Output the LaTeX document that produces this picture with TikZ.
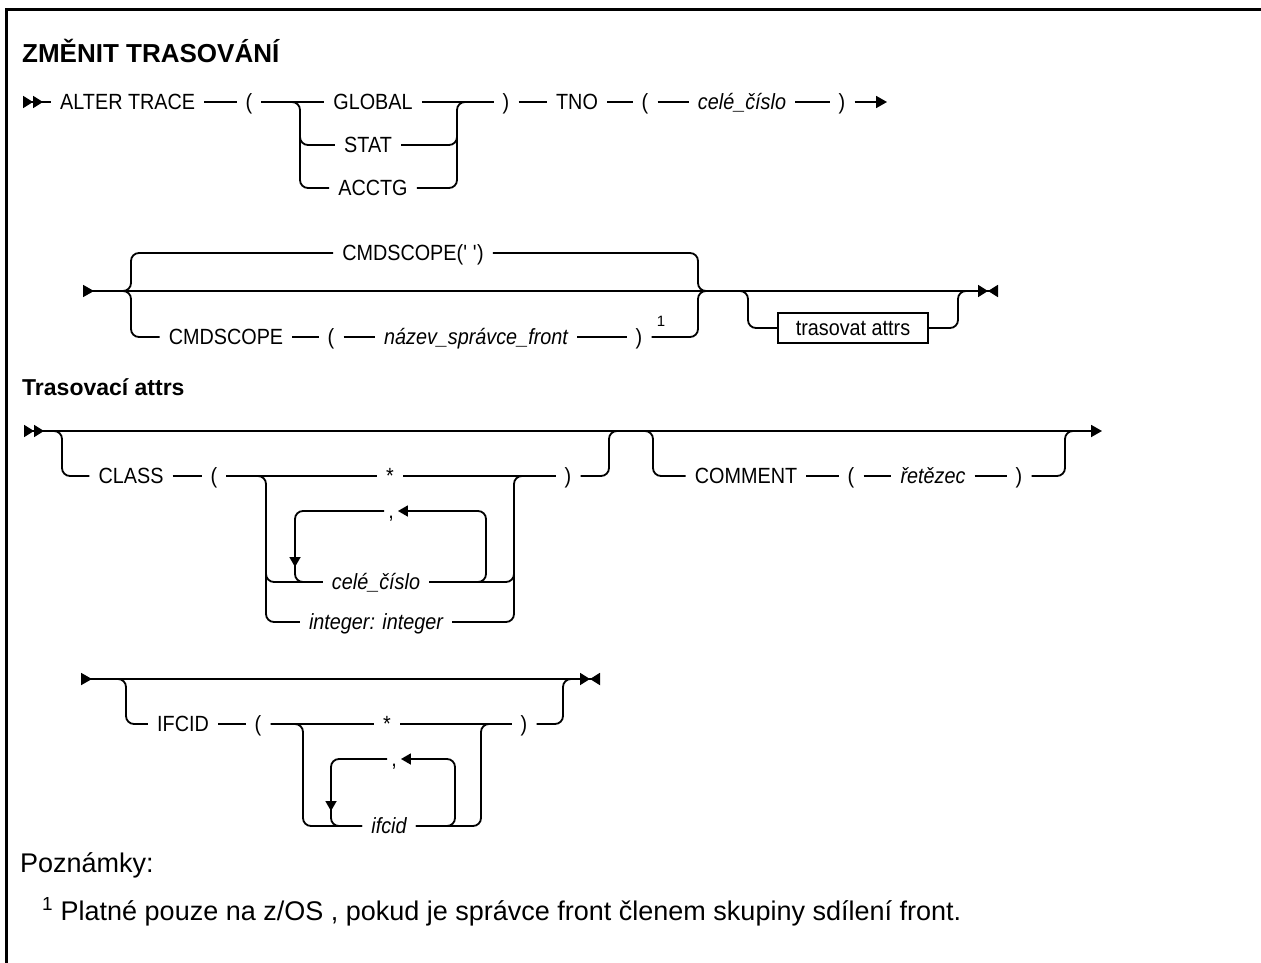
\documentclass[tikz,border=0pt]{standalone}
\usepackage{fontspec}
\setmainfont{Liberation Sans}
\newfontfamily\rrfamily[FakeStretch=0.9]{Liberation Sans}
\usetikzlibrary{arrows.meta, positioning, calc}

\newcommand{\rrfont}{\rrfamily\fontsize{22}{26}\selectfont}
\newcommand{\titlefont}{\fontsize{26}{30}\selectfont\bfseries}
\newcommand{\subfont}{\fontsize{23}{28}\selectfont\bfseries}
\newcommand{\notefont}{\fontsize{27}{32}\selectfont}
\newcommand{\supfont}{\fontsize{15}{18}\selectfont}

\begin{document}
\begin{tikzpicture}[x=1pt, y=-1pt,
    tok/.style={inner xsep=9pt, inner ysep=2pt, text height=17pt, text depth=2pt, font=\rrfont},
    var/.style={tok, font=\rrfont\itshape},
    refbox/.style={tok, draw, line width=1.4pt, minimum width=150pt, minimum height=30pt},
    rail/.style={line width=1.8pt, rounded corners=8pt},
    dblstart/.style={{Triangle[reversed,length=10pt,width=12pt,sep=0pt]Triangle[reversed,length=10pt,width=12pt]}-},
    opening/.style={{Triangle[reversed,length=10pt,width=12pt,sep=0pt]Triangle[reversed,length=10pt,width=12pt]}-{Triangle[length=11pt,width=12pt]}},
    continued/.style={{Triangle[reversed,length=11pt,width=12pt]}-{Triangle[length=10pt,width=12pt,sep=0pt]Triangle[reversed,length=10pt,width=12pt]}},
    onward/.style={-{Triangle[length=11pt,width=12pt]}},
    looparrow/.style={-{Triangle[length=10pt,width=11pt]}}
]
\useasboundingbox (0,0) rectangle (1261,963);

% frame
\draw[line width=3pt] (6.5,963) -- (6.5,9.5) -- (1261,9.5);

\node[anchor=base west, inner sep=0pt, font=\titlefont] (title) at (22,63) {ZMĚNIT TRASOVÁNÍ};

% row 1
\coordinate (s1) at (23,102);
\coordinate (e1) at (887,102);
\node[tok, anchor=west] (alter) at (51,102) {ALTER TRACE};
\node[tok] (lp1) at (249,102) {(};
\node[tok] (global) at (373,102) {GLOBAL};
\node[tok] (stat) at (368,145) {STAT};
\node[tok] (acctg) at (373,188) {ACCTG};
\node[tok] (rp1) at (506,102) {)};
\node[tok] (tno) at (577,102) {TNO};
\node[tok] (lp2) at (645,102) {(};
\node[var] (tnoval) at (742,102) {celé\_číslo};
\node[tok] (rp2) at (842,102) {)};

\draw[rail, dblstart] (s1) -- (alter.west);
\draw[rail, onward] (rp2.east) -- (e1);
\draw[rail] (alter.east) -- (lp1.west);
\draw[rail] (lp1.east) -- (global.west);
\draw[rail] (lp1.east) -- (300,102) |- (acctg.west);
\draw[rail] (300,130) |- (stat.west);
\draw[rail] (global.east) -- (rp1.west);
\draw[rail] (acctg.east) -| (457,102) -- (467,102);
\draw[rail] (stat.east) -| (457,130);
\draw[rail] (rp1.east) -- (tno.west);
\draw[rail] (tno.east) -- (lp2.west);
\draw[rail] (lp2.east) -- (tnoval.west);
\draw[rail] (tnoval.east) -- (rp2.west);

% row 2
\coordinate (s2) at (83,291);
\coordinate (e2) at (998,291);
\node[tok] (dflt) at (413,253) {CMDSCOPE(\textquotesingle\ \textquotesingle)};
\node[tok] (cmd) at (226,337) {CMDSCOPE};
\node[tok] (lp3) at (331,337) {(};
\node[var] (qmgr) at (476,337) {název\_správce\_front};
\node[tok] (rp3) at (639,337) {)};
\node[inner sep=0pt, font=\supfont] (fn1) at (661,321) {1};
\node[refbox] (attrs) at (853,328) {trasovat attrs};

\draw[rail, continued] (s2) -- (e2);
\draw[rail] (122,291) -| (131,253) -- (dflt.west);
\draw[rail] (122,291) -| (131,337) -- (cmd.west);
\draw[rail] (dflt.east) -| (698,291) -- (708,291);
\draw[rail] (cmd.east) -- (lp3.west);
\draw[rail] (lp3.east) -- (qmgr.west);
\draw[rail] (qmgr.east) -- (rp3.west);
\draw[rail] (rp3.east) -| (698,291) -- (708,291);
\draw[rail] (739,291) -| (748,328) -- (attrs.west);
\draw[rail] (attrs.east) -| (958,291) -- (967,291);

% Trasovaci attrs
\node[anchor=base west, inner sep=0pt, font=\subfont] (sub) at (22,395) {Trasovací attrs};

% row 3
\coordinate (s3) at (24,431);
\coordinate (e3) at (1102,431);
\node[tok] (class) at (131,476) {CLASS};
\node[tok] (lp4) at (214,476) {(};
\node[tok] (star1) at (390,476) {*};
\node[tok, inner xsep=4pt] (comma1) at (391,511) {,};
\node[var] (num) at (376,582) {celé\_číslo};
\node[var] (range) at (376,622) {integer: integer};
\node[tok] (rp4) at (568,476) {)};
\node[tok] (comment) at (746,476) {COMMENT};
\node[tok] (lp5) at (851,476) {(};
\node[var] (text) at (933,476) {řetězec};
\node[tok] (rp5) at (1019,476) {)};

\draw[rail, opening] (s3) -- (e3);
\draw[rail] (53,431) -| (62,476) -- (class.west);
\draw[rail] (class.east) -- (lp4.west);
\draw[rail] (lp4.east) -- (star1.west);
\draw[rail] (star1.east) -- (rp4.west);
\draw[rail] (lp4.east) -| (266,622) -- (range.west);
\draw[rail] (266,560) |- (num.west);
\draw[rail] (range.east) -| (514,476) -- (524,476);
\draw[rail] (num.east) -| (514,560);
\draw[rail, looparrow] (num.east) -| (486,511) -- (comma1.east);
\draw[rail, looparrow] (comma1.west) -| (295,567);
\draw[rail] (295,555) |- (num.west);
\draw[rail] (rp4.east) -| (609,431) -- (618,431);
\draw[rail] (644,431) -| (653,476) -- (comment.west);
\draw[rail] (comment.east) -- (lp5.west);
\draw[rail] (lp5.east) -- (text.west);
\draw[rail] (text.east) -- (rp5.west);
\draw[rail] (rp5.east) -| (1065,431) -- (1074,431);

% row 4
\coordinate (s4) at (81,679);
\coordinate (e4) at (600,679);
\node[tok] (ifcid) at (183,724) {IFCID};
\node[tok] (lp6) at (258,724) {(};
\node[tok] (star2) at (387,724) {*};
\node[tok, inner xsep=4pt] (comma2) at (394,759) {,};
\node[var] (ifcidval) at (389,826) {ifcid};
\node[tok] (rp6) at (524,724) {)};

\draw[rail, continued] (s4) -- (e4);
\draw[rail] (117,679) -| (126,724) -- (ifcid.west);
\draw[rail] (ifcid.east) -- (lp6.west);
\draw[rail] (lp6.east) -- (star2.west);
\draw[rail] (star2.east) -- (rp6.west);
\draw[rail] (lp6.east) -| (303,826) -- (ifcidval.west);
\draw[rail] (ifcidval.east) -| (481,724) -- (491,724);
\draw[rail, looparrow] (ifcidval.east) -| (455,759) -- (comma2.east);
\draw[rail, looparrow] (comma2.west) -| (331,811);
\draw[rail] (331,800) |- (ifcidval.west);
\draw[rail] (rp6.east) -| (563,679) -- (572,679);

% notes
\node[anchor=base west, inner sep=0pt, font=\notefont] (notes) at (20,872) {Poznámky:};
\node[anchor=base west, inner sep=0pt, font=\notefont] (note1) at (42,920) {\textsuperscript{1} Platné pouze na z/OS , pokud je správce front členem skupiny sdílení front.};
\end{tikzpicture}
\end{document}
